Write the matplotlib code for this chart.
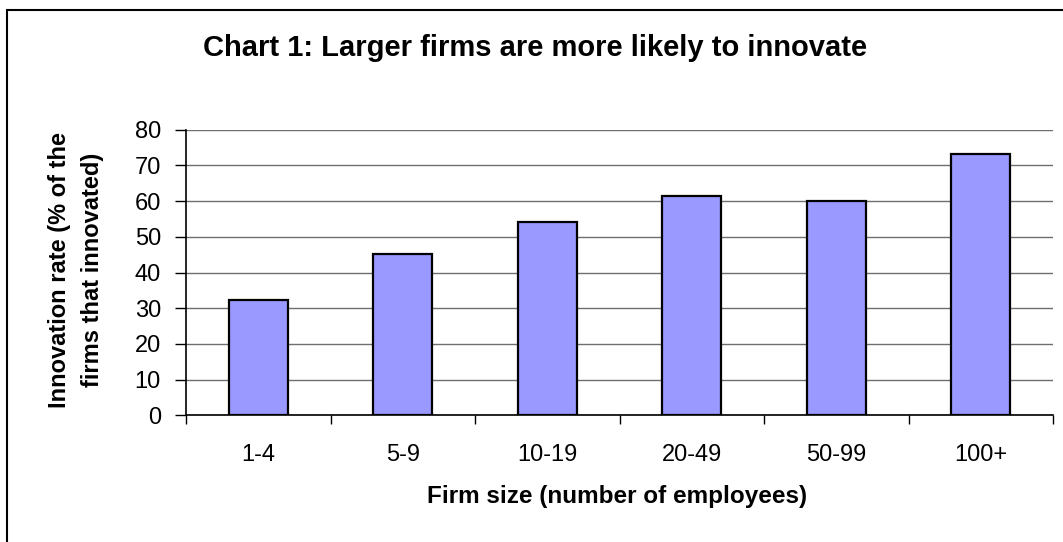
import numpy as np
import matplotlib.pyplot as plt

plt.rcParams['font.family'] = ['Liberation Sans', 'DejaVu Sans']

firm_sizes = ['1-4', '5-9', '10-19', '20-49', '50-99', '100+']
innovation_rate = [32.3, 45.2, 54.2, 61.4, 59.9, 73.3]
y_ticks = [0, 10, 20, 30, 40, 50, 60, 70, 80]

W, H = 1063, 542
fig = plt.figure(figsize=(W / 100, H / 100), dpi=100)
ax = fig.add_axes([186 / W, 1 - 415.3 / H, (1053 - 186) / W, (415.3 - 129.7) / H])

x = np.arange(len(firm_sizes))
ax.bar(x, innovation_rate, width=0.41, color='#9999ff', edgecolor='black',
       linewidth=1.6, zorder=3)

ax.set_xlim(-0.5, len(firm_sizes) - 0.5)
ax.set_ylim(0, 80)
ax.set_yticks(y_ticks)
ax.yaxis.grid(True, color='#6e6e6e', linewidth=1.0, zorder=0)
ax.set_axisbelow(True)

# ticks on category boundaries, labels centred on bars
ax.set_xticks(np.arange(-0.5, len(firm_sizes) + 0.5, 1.0))
ax.set_xticklabels([])
ax.set_xticks(x, minor=True)
ax.set_xticklabels(firm_sizes, minor=True, fontsize=17)
ax.tick_params(axis='x', which='minor', length=0, pad=21)
ax.tick_params(axis='x', which='major', length=6.5, width=1, direction='out')
ax.tick_params(axis='y', length=8, width=1, labelsize=17, pad=10)

for s in ['top', 'right']:
    ax.spines[s].set_visible(False)
ax.spines['left'].set_linewidth(1.2)
ax.spines['bottom'].set_linewidth(1.2)

fig.text(617 / W, 1 - 497 / H, 'Firm size (number of employees)', ha='center', va='center',
         fontsize=17.5, fontweight='bold')
fig.text(76 / W, 1 - 270 / H, 'Innovation rate (% of the\nfirms that innovated)',
         ha='center', va='center', rotation=90, multialignment='center',
         fontsize=17, fontweight='bold', linespacing=1.6)

fig.text(535 / W, 1 - 48 / H, 'Chart 1: Larger firms are more likely to innovate',
         ha='center', va='center', fontsize=21, fontweight='bold')

# outer chart border (only top and left edges fall inside the image)
fig.patches.append(plt.Rectangle((7 / W, -0.1), 1.2, 1.1 - 10 / H,
                                 transform=fig.transFigure, fill=False,
                                 edgecolor='black', linewidth=1.5))

fig.savefig('out.png', dpi=100)
